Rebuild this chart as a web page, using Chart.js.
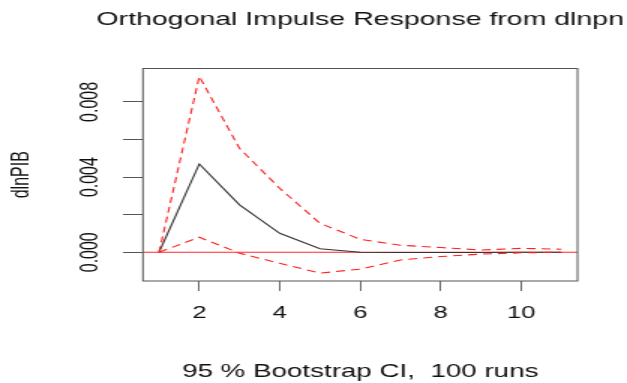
<!DOCTYPE html>
<html>
<head>
<meta charset="utf-8">
<script src="https://cdn.jsdelivr.net/npm/chart.js@4.4.1/dist/chart.umd.min.js"></script>
<style>
  html, body { margin: 0; padding: 0; background: #ffffff; overflow: hidden; width: 627px; height: 383px; }
  #wrap { width: 418px; height: 383px; transform: scaleX(1.5); transform-origin: 0 0; }
  #c { display: block; }
</style>
</head>
<body>
<div id="wrap"><canvas id="c" width="418" height="383"></canvas></div>
<script>
// ---- data ----
const periods = [1, 2, 3, 4, 5, 6, 7, 8, 9, 10, 11];
const irf   = [0, 0.0047, 0.00252, 0.00101, 0.00019, 0.00000, -0.00001, -0.00001, -0.00001, 0.00000, 0.00000];
const upper = [0, 0.00936, 0.00553, 0.00340, 0.00154, 0.00069, 0.00037, 0.00025, 0.00012, 0.00021, 0.00016];
const lower = [0, 0.00080, -0.00005, -0.00059, -0.00111, -0.00090, -0.00041, -0.00023, -0.00010, -0.00003, 0.00000];
const xTicks = [2, 4, 6, 8, 10];
const yTicks = [0, 0.002, 0.004, 0.006, 0.008];
const yLabelled = [0, 0.004, 0.008];
const mainTitle = 'Orthogonal Impulse Response from dlnpn';
const yTitle = 'dlnPIB';
const xTitle = '95 % Bootstrap CI,  100 runs';
const zeroLine = 0;

const FONT = 'Liberation Sans, Arial, Helvetica, sans-serif';
const toXY = (arr) => periods.map((p, i) => ({ x: p, y: arr[i] }));

const framePlugin = {
  id: 'frame',
  beforeDatasetsDraw(chart) {
    const { ctx, chartArea: a, scales } = chart;
    const y0 = scales.y.getPixelForValue(zeroLine);
    ctx.save();
    ctx.strokeStyle = 'rgba(255,0,0,0.85)';
    ctx.lineWidth = 1;
    ctx.beginPath();
    ctx.moveTo(a.left, y0);
    ctx.lineTo(a.right, y0);
    ctx.stroke();
    ctx.restore();
  },
  afterDraw(chart) {
    const { ctx, chartArea: a } = chart;
    ctx.save();
    ctx.strokeStyle = '#555555';
    ctx.lineWidth = 1;
    ctx.strokeRect(a.left, a.top, a.right - a.left, a.bottom - a.top);
    ctx.fillStyle = '#111111';
    ctx.font = '19px ' + FONT;
    ctx.textAlign = 'center';
    ctx.textBaseline = 'middle';
    ctx.fillText(mainTitle, (a.left + a.right) / 2, 20);
    ctx.restore();
  }
};

new Chart(document.getElementById('c'), {
  type: 'line',
  data: {
    datasets: [
      { label: 'upper', data: toXY(upper), borderColor: '#ff2020', borderWidth: 1.1, borderDash: [6, 4], pointRadius: 0, tension: 0, fill: false },
      { label: 'lower', data: toXY(lower), borderColor: '#ff2020', borderWidth: 1.1, borderDash: [6, 4], pointRadius: 0, tension: 0, fill: false },
      { label: 'irf', data: toXY(irf), borderColor: '#333333', borderWidth: 1.1, pointRadius: 0, tension: 0, fill: false }
    ]
  },
  options: {
    responsive: false,
    animation: false,
    devicePixelRatio: 1,
    layout: { padding: { left: 0, right: 33, top: 68.5, bottom: 0 } },
    plugins: { legend: { display: false }, title: { display: false }, tooltip: { enabled: false } },
    scales: {
      x: {
        type: 'linear',
        min: 0.6,
        max: 11.4,
        afterBuildTicks(s) { s.ticks = xTicks.map(v => ({ value: v })); },
        afterFit(s) { s.height = 102; },
        border: { display: false },
        grid: { display: true, drawOnChartArea: false, drawTicks: true, tickLength: 10, color: '#666666', lineWidth: 1 },
        ticks: { color: '#111111', font: { family: FONT, size: 17 }, padding: 12, maxRotation: 0, minRotation: 0,
          callback: (v) => String(v) },
        title: { display: true, text: xTitle, color: '#111111', font: { family: FONT, size: 18.5 }, padding: { top: 0, bottom: 0 } }
      },
      y: {
        type: 'linear',
        min: -0.00153,
        max: 0.00978,
        afterBuildTicks(s) { s.ticks = yTicks.map(v => ({ value: v })); },
        afterFit(s) { s.width = 95.3; },
        border: { display: false },
        grid: { display: true, drawOnChartArea: false, drawTicks: true, tickLength: 13.3, color: '#555555', lineWidth: 1 },
        ticks: { color: '#111111', font: { family: FONT, size: 16 }, padding: 1.3, minRotation: 90, maxRotation: 90, crossAlign: 'center',
          callback: (v) => yLabelled.some(t => Math.abs(t - v) < 1e-9) ? v.toFixed(3) : '' },
        title: { display: true, text: yTitle, color: '#111111', font: { family: FONT, size: 16 }, padding: { top: 5, bottom: 0 } }
      }
    }
  },
  plugins: [framePlugin]
});
</script>
</body>
</html>
